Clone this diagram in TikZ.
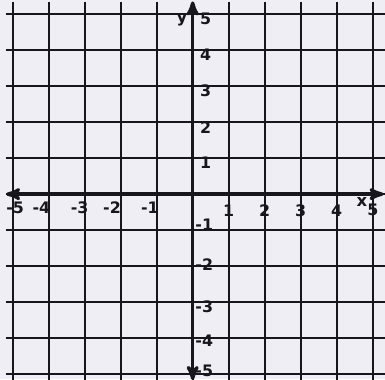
\documentclass[tikz,border=0pt]{standalone}
\usepackage{fontspec}
\setmainfont{DejaVu Sans}
\usetikzlibrary{arrows}
\definecolor{paper}{RGB}{238,238,244}
\definecolor{ink}{RGB}{22,22,28}

\begin{document}
\begin{tikzpicture}[>=stealth',
		gridline/.style={draw=ink,line width=1.5pt},
		axisline/.style={draw=ink,line width=2.6pt,<->},
		ticklab/.style={font=\fontsize{12.5}{14}\selectfont\bfseries,text=ink,inner sep=0pt},
		axislab/.style={font=\fontsize{13}{15}\selectfont\bfseries,text=ink,inner sep=0pt}]
		\fill[paper] (-5.35,-5.14) rectangle (5.34,5.39);
		\useasboundingbox (-5.35,-5.14) rectangle (5.34,5.39);
		
		% grid
		\foreach \i in {-5,...,5} {
			\draw[gridline] (\i,-5.2) -- (\i,5.33);
			\draw[gridline] (-5.19,\i) -- (5.4,\i);
		}
		
		% axes
		\coordinate (xl) at (-5.18,0);
		\coordinate (xr) at (5.3,0);
		\coordinate (yb) at (0,-5.16);
		\coordinate (yt) at (0,5.35);
		\draw[axisline] (xl) -- (xr);
		\draw[axisline] (yb) -- (yt);
		
		% labels
		\foreach \i in {1,...,5} {
			\node[ticklab] (xp\i) at (\i,-0.45) {\i};
			\node[ticklab,anchor=west] (yp\i) at (0.2,\i-0.14) {\i};
		}
		\foreach \i/\xp in {-5/-4.93,-4/-4.2,-3/-3.14,-2/-2.24,-1/-1.19}
			\node[ticklab] (xn\i) at (\xp,-0.37) {\i};
		\foreach \i/\yp in {-1/-0.85,-2/-1.97,-3/-3.12,-4/-4.08,-5/-4.9}
			\node[ticklab,anchor=west] (yn\i) at (0.07,\yp) {\i};
		\node[axislab] (xname) at (4.7,-0.22) {x};
		\node[axislab] (yname) at (-0.3,4.83) {y};
\end{tikzpicture}
\end{document}
